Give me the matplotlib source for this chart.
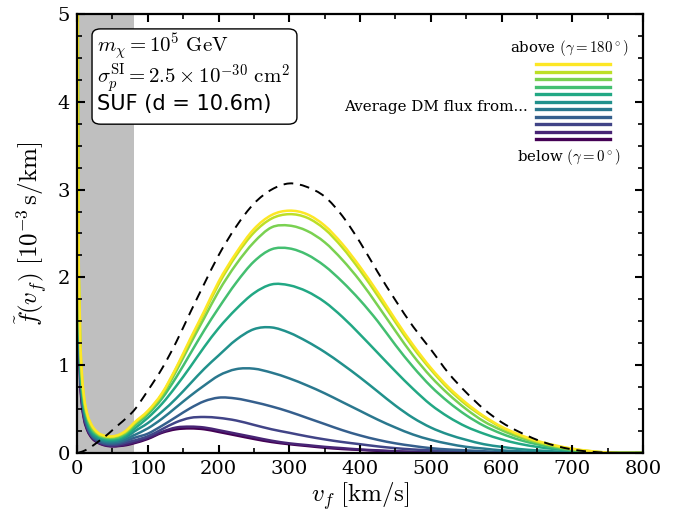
import numpy as np
import matplotlib
matplotlib.use("Agg")
import matplotlib.pyplot as plt
from matplotlib.path import Path
from matplotlib.patches import PathPatch, FancyBboxPatch
from matplotlib.ticker import MultipleLocator

plt.rcParams['font.family'] = 'serif'
plt.rcParams['font.serif'] = ['DejaVu Serif']
plt.rcParams['mathtext.fontset'] = 'cm'

# speed grid [km/s]
v = [0.5, 1, 2, 4, 7, 10, 15, 20, 30, 40, 50, 60, 70, 80,
     100, 120, 140, 160, 180, 200, 225, 250, 275, 300,
     325, 350, 375, 400, 425, 450, 475, 500, 525, 550, 575, 600, 625, 650, 700, 750, 800]

# free halo distribution (dashed)
f_halo = [0, 0, 0.003, 0.008, 0.015, 0.025, 0.045, 0.07, 0.13, 0.19, 0.26, 0.33, 0.40, 0.48,
          0.71, 0.96, 1.26, 1.60, 1.93, 2.25, 2.58, 2.84, 3.00, 3.07,
          3.03, 2.92, 2.70, 2.40, 2.06, 1.74, 1.44, 1.18, 0.91, 0.69, 0.50, 0.35, 0.24, 0.15, 0.04, 0.003, 0.0]

# averaged fluxes, from below (gamma=0) to above (gamma=180)
f_g0 = [7.2, 3.6, 1.8, 0.93, 0.54, 0.38, 0.25, 0.18, 0.115, 0.085, 0.075, 0.08, 0.09, 0.11,
        0.16, 0.23, 0.27, 0.28, 0.27, 0.24, 0.20, 0.16, 0.125, 0.10,
        0.08, 0.06, 0.045, 0.035, 0.025, 0.017, 0.011, 0.007, 0.004, 0.002, 0, 0, 0, 0, 0, 0, 0]
f_g1 = [7.6, 3.8, 1.9, 0.98, 0.57, 0.40, 0.26, 0.19, 0.12, 0.09, 0.08, 0.085, 0.10, 0.12,
        0.17, 0.24, 0.29, 0.30, 0.29, 0.26, 0.22, 0.18, 0.14, 0.11,
        0.09, 0.07, 0.055, 0.04, 0.03, 0.02, 0.013, 0.008, 0.005, 0.003, 0, 0, 0, 0, 0, 0, 0]
f_g2 = [8.0, 4.0, 2.0, 1.03, 0.60, 0.42, 0.28, 0.20, 0.13, 0.10, 0.09, 0.10, 0.12, 0.14,
        0.19, 0.27, 0.35, 0.40, 0.41, 0.40, 0.37, 0.32, 0.27, 0.23,
        0.19, 0.155, 0.125, 0.10, 0.075, 0.055, 0.04, 0.03, 0.02, 0.013, 0.008, 0.005, 0.003, 0, 0, 0, 0]
f_g3 = [8.4, 4.2, 2.1, 1.08, 0.63, 0.45, 0.29, 0.21, 0.14, 0.11, 0.105, 0.115, 0.14, 0.17,
        0.22, 0.31, 0.41, 0.51, 0.59, 0.63, 0.62, 0.58, 0.53, 0.47,
        0.40, 0.33, 0.26, 0.20, 0.15, 0.11, 0.08, 0.055, 0.04, 0.03, 0.02, 0.01, 0.007, 0.005, 0, 0, 0]
f_g4 = [8.8, 4.4, 2.2, 1.13, 0.66, 0.47, 0.31, 0.22, 0.155, 0.125, 0.12, 0.13, 0.16, 0.20,
        0.28, 0.39, 0.52, 0.65, 0.77, 0.88, 0.955, 0.96, 0.915, 0.85,
        0.77, 0.68, 0.58, 0.48, 0.38, 0.29, 0.21, 0.15, 0.105, 0.07, 0.05, 0.03, 0.02, 0.01, 0.003, 0, 0]
f_g5 = [9.2, 4.6, 2.3, 1.19, 0.70, 0.50, 0.33, 0.24, 0.17, 0.14, 0.135, 0.15, 0.185, 0.24,
        0.34, 0.47, 0.62, 0.79, 0.96, 1.11, 1.29, 1.41, 1.43, 1.37,
        1.27, 1.15, 1.01, 0.86, 0.70, 0.54, 0.40, 0.29, 0.21, 0.15, 0.10, 0.07, 0.045, 0.03, 0.01, 0, 0]
f_g6 = [9.8, 4.9, 2.45, 1.27, 0.74, 0.53, 0.36, 0.26, 0.185, 0.155, 0.15, 0.165, 0.205, 0.27,
        0.40, 0.56, 0.76, 0.98, 1.21, 1.42, 1.64, 1.82, 1.92, 1.91,
        1.84, 1.72, 1.55, 1.35, 1.14, 0.93, 0.73, 0.55, 0.41, 0.30, 0.22, 0.155, 0.105, 0.07, 0.025, 0.002, 0]
f_g7 = [10.4, 5.2, 2.6, 1.35, 0.79, 0.56, 0.38, 0.28, 0.20, 0.17, 0.165, 0.18, 0.225, 0.30,
        0.44, 0.62, 0.86, 1.13, 1.40, 1.65, 1.94, 2.18, 2.32, 2.33,
        2.26, 2.13, 1.95, 1.74, 1.50, 1.23, 0.98, 0.76, 0.58, 0.43, 0.31, 0.22, 0.15, 0.10, 0.03, 0.003, 0]
f_g8 = [11.0, 5.5, 2.75, 1.42, 0.83, 0.59, 0.40, 0.30, 0.21, 0.18, 0.175, 0.195, 0.24, 0.32,
        0.46, 0.65, 0.93, 1.24, 1.54, 1.84, 2.15, 2.40, 2.57, 2.59,
        2.53, 2.40, 2.20, 1.96, 1.68, 1.39, 1.11, 0.87, 0.67, 0.50, 0.36, 0.26, 0.18, 0.12, 0.04, 0.005, 0]
f_g9 = [11.6, 5.8, 2.9, 1.50, 0.87, 0.62, 0.42, 0.32, 0.22, 0.19, 0.185, 0.205, 0.25, 0.33,
        0.47, 0.67, 0.96, 1.28, 1.60, 1.92, 2.25, 2.51, 2.67, 2.72,
        2.68, 2.55, 2.34, 2.08, 1.79, 1.49, 1.20, 0.95, 0.73, 0.55, 0.41, 0.29, 0.20, 0.13, 0.045, 0.005, 0]
f_g10 = [12.0, 6.0, 3.0, 1.55, 0.90, 0.64, 0.43, 0.33, 0.23, 0.195, 0.19, 0.21, 0.26, 0.34,
         0.48, 0.68, 0.97, 1.30, 1.62, 1.95, 2.28, 2.55, 2.71, 2.76,
         2.72, 2.59, 2.38, 2.12, 1.83, 1.52, 1.23, 0.97, 0.75, 0.57, 0.42, 0.30, 0.21, 0.14, 0.05, 0.005, 0]

fluxes = [f_g0, f_g1, f_g2, f_g3, f_g4, f_g5, f_g6, f_g7, f_g8, f_g9, f_g10]
v_cut = 80  # shaded threshold


def smooth_path(x, y):
    """Cubic Hermite through the points (three-point slopes), as Bezier segments."""
    x = np.asarray(x, float)
    y = np.asarray(y, float)
    h = np.diff(x)
    d = np.diff(y) / h
    m = np.zeros_like(y)
    m[0], m[-1] = d[0], d[-1]
    m[1:-1] = (h[1:] * d[:-1] + h[:-1] * d[1:]) / (h[:-1] + h[1:])
    verts = [(x[0], y[0])]
    codes = [Path.MOVETO]
    for i in range(len(x) - 1):
        verts += [(x[i] + h[i] / 3, y[i] + m[i] * h[i] / 3),
                  (x[i + 1] - h[i] / 3, y[i + 1] - m[i + 1] * h[i] / 3),
                  (x[i + 1], y[i + 1])]
        codes += [Path.CURVE4] * 3
    return Path(verts, codes)


fig = plt.figure(figsize=(6.89, 5.14), dpi=100)
ax = fig.add_axes([0.1118, 0.1187, 0.8215, 0.8541])

ax.axvspan(0, v_cut, color='#bfbfbf', lw=0, zorder=0)

cols = plt.cm.viridis(np.linspace(0, 1, len(fluxes)))
for f, c in zip(fluxes, cols):
    ax.add_patch(PathPatch(smooth_path(v, f), fill=False, edgecolor=c, lw=1.8,
                           capstyle='round', joinstyle='round'))
ax.add_patch(PathPatch(smooth_path(v, f_halo), fill=False, edgecolor='black', lw=1.4,
                       linestyle=(0, (5, 3.5)), zorder=3))

ax.set_xlim(0, 800)
ax.set_ylim(0, 5)
ax.xaxis.set_major_locator(MultipleLocator(100))
ax.xaxis.set_minor_locator(MultipleLocator(50))
ax.yaxis.set_major_locator(MultipleLocator(1))
ax.yaxis.set_minor_locator(MultipleLocator(0.25))
ax.tick_params(which='both', direction='in', top=True, right=True, labelsize=14, pad=5)
ax.tick_params(which='major', length=6, width=1.5)
ax.tick_params(which='minor', length=3.5, width=1.2)
for s in ax.spines.values():
    s.set_linewidth(1.6)

ax.set_xlabel(r'$v_f\ \mathrm{[km/s]}$', fontsize=18, labelpad=2)
ax.set_ylabel(r'$\tilde{f}(v_f)\ [10^{-3}\,\mathrm{s/km}]$', fontsize=18, labelpad=6)

# parameter box
ax.add_patch(FancyBboxPatch((0.0265, 0.749), 0.362, 0.217, transform=ax.transAxes,
                            boxstyle='round,pad=0,rounding_size=0.015',
                            fc='white', ec='black', lw=1.0, zorder=4))
ax.text(0.0353, 0.926, r'$m_\chi = 10^5\ \mathrm{GeV}$', transform=ax.transAxes,
        fontsize=15, va='center', ha='left', zorder=5)
ax.text(0.0353, 0.853, r'$\sigma_p^\mathrm{SI} = 2.5\times10^{-30}\ \mathrm{cm}^2$',
        transform=ax.transAxes, fontsize=15, va='center', ha='left', zorder=5)
ax.text(0.0353, 0.794, 'SUF (d = 10.6m)', transform=ax.transAxes, fontsize=15,
        family='DejaVu Sans', va='center', ha='left', zorder=5)

# legend keys, stacked from below (bottom) to above (top)
key_y0, key_dy = 0.715, 0.0171
for i, c in enumerate(cols):
    y = key_y0 + i * key_dy
    ax.plot([0.811, 0.942], [y, y], color=c, lw=2.4, transform=ax.transAxes)
ax.text(0.869, 0.923, r'above $(\gamma = 180^\circ)$', transform=ax.transAxes,
        fontsize=10.7, ha='center', va='center')
ax.text(0.869, 0.674, r'below $(\gamma = 0^\circ)$', transform=ax.transAxes,
        fontsize=10.7, ha='center', va='center')
ax.text(0.797, 0.788, 'Average DM flux from...', transform=ax.transAxes,
        fontsize=10.9, ha='right', va='center')

fig.savefig('out.png', dpi=100)
